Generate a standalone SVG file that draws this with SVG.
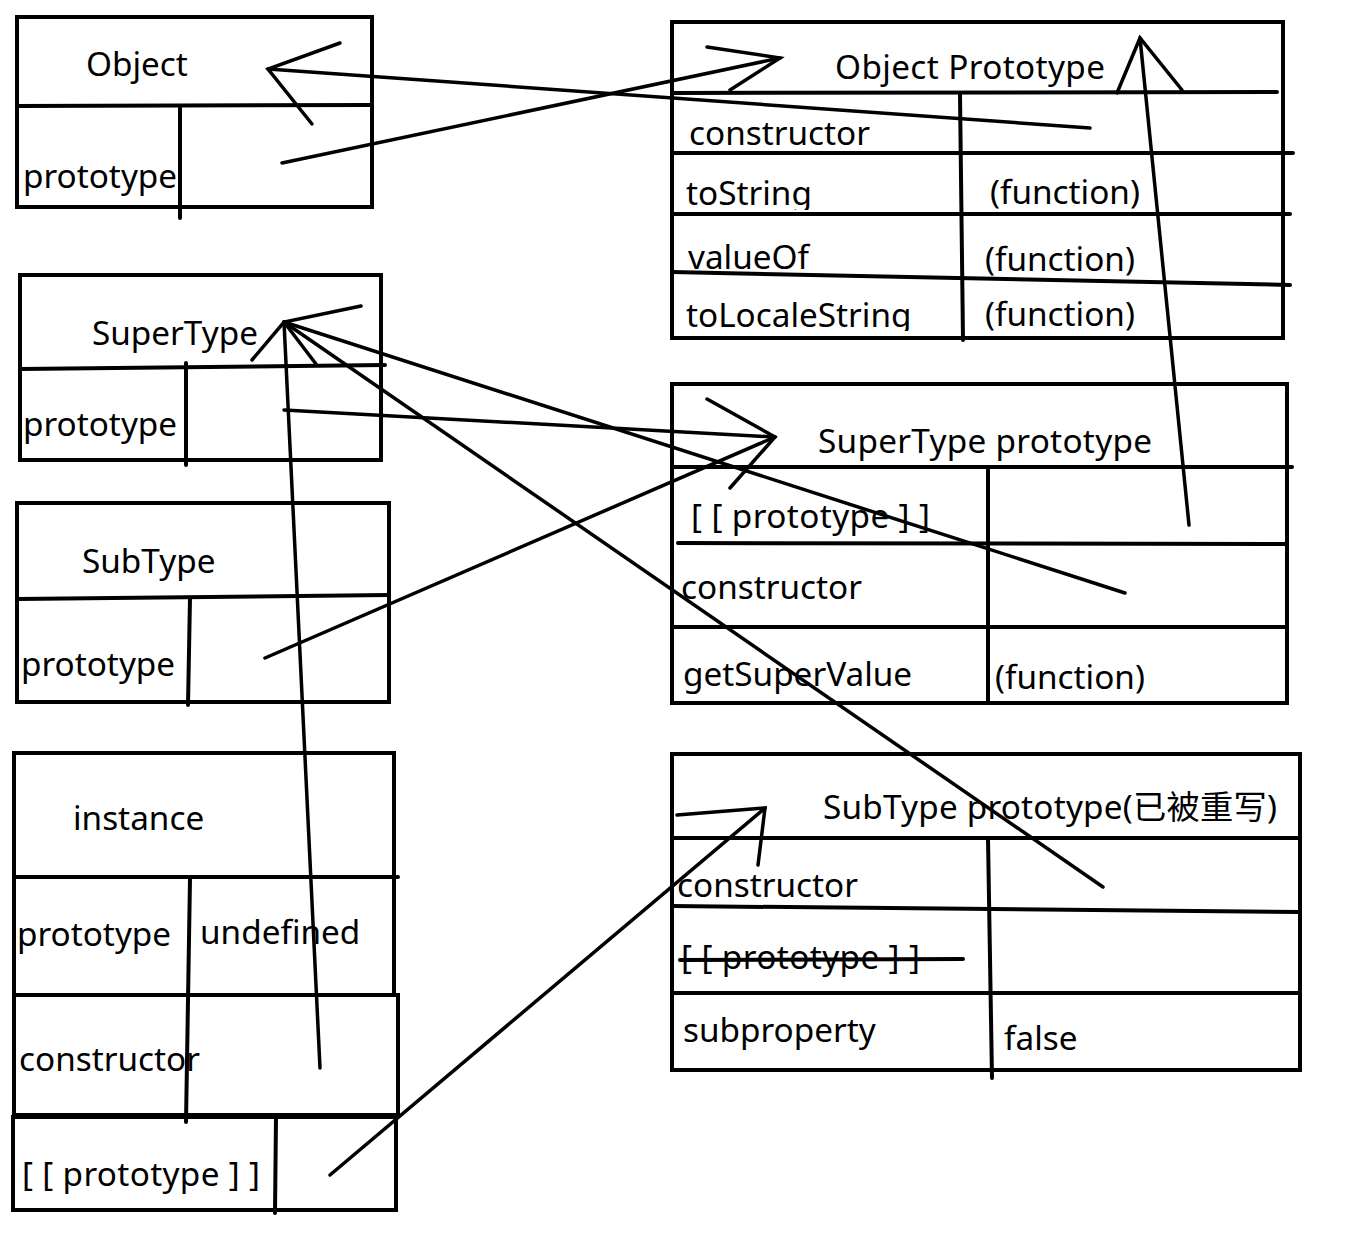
<svg xmlns="http://www.w3.org/2000/svg" width="1356" height="1249" viewBox="0 0 1356 1249">
<style>
.b{fill:none;stroke:#000;stroke-width:4;stroke-linecap:square}
.l{fill:none;stroke:#000;stroke-width:4;stroke-linecap:round}
.c{fill:none;stroke:#000;stroke-width:3.5;stroke-linecap:round}
text{font-family:"Noto Sans","Noto Sans CJK SC",sans-serif;font-size:33.3px;fill:#000}
</style>
<defs>
<clipPath id="clipTS"><rect x="672" y="150" width="290" height="60"/></clipPath>
<clipPath id="clipTLS"><rect x="672" y="280" width="290" height="51"/></clipPath>
</defs>
<rect width="1356" height="1249" fill="#fff"/>

<g id="object">
<rect class="b" x="17" y="17" width="355" height="190"/>
<line class="l" x1="17" y1="106" x2="372" y2="105"/>
<line class="l" x1="180" y1="108" x2="180" y2="218"/>
<text x="86" y="76">Object</text>
<text x="23" y="188">prototype</text>
</g>

<g id="object-prototype">
<rect class="b" x="672" y="22" width="611" height="316"/>
<line class="l" x1="672" y1="93" x2="1277" y2="92"/>
<line class="l" x1="672" y1="153" x2="1293" y2="153"/>
<line class="l" x1="672" y1="214" x2="1290" y2="214"/>
<line class="l" x1="672" y1="272" x2="1290" y2="285"/>
<line class="l" x1="960" y1="94" x2="963" y2="340"/>
<text x="835" y="79" textLength="270" lengthAdjust="spacing">Object Prototype</text>
<text x="689" y="145">constructor</text>
<text x="686" y="205" clip-path="url(#clipTS)">toString</text>
<text x="990" y="204">(function)</text>
<text x="688" y="269">valueOf</text>
<text x="985" y="271">(function)</text>
<text x="686" y="327" clip-path="url(#clipTLS)">toLocaleString</text>
<text x="985" y="326">(function)</text>
</g>

<g id="supertype">
<rect class="b" x="20" y="275" width="361" height="185"/>
<line class="l" x1="20" y1="369" x2="385" y2="365"/>
<line class="l" x1="186" y1="363" x2="186" y2="465"/>
<text x="92" y="345">SuperType</text>
<text x="23" y="436">prototype</text>
</g>

<g id="supertype-prototype">
<rect class="b" x="672" y="384" width="615" height="319"/>
<line class="l" x1="672" y1="467" x2="1292" y2="467"/>
<line class="l" x1="678" y1="543" x2="1285" y2="544"/>
<line class="l" x1="672" y1="627" x2="1285" y2="627"/>
<line class="l" x1="988" y1="470" x2="988" y2="703"/>
<text x="818" y="453" textLength="334" lengthAdjust="spacing">SuperType prototype</text>
<text x="691" y="528" textLength="239" lengthAdjust="spacing">[ [ prototype ] ]</text>
<text x="681" y="599">constructor</text>
<text x="683" y="686">getSuperValue</text>
<text x="995" y="689">(function)</text>
</g>

<g id="subtype">
<rect class="b" x="17" y="503" width="372" height="199"/>
<line class="l" x1="17" y1="599" x2="389" y2="595"/>
<line class="l" x1="190" y1="598" x2="188" y2="705"/>
<text x="82" y="573">SubType</text>
<text x="21" y="676">prototype</text>
</g>

<g id="instance">
<rect class="b" x="14" y="753" width="380" height="242"/>
<line class="l" x1="14" y1="877" x2="398" y2="877"/>
<rect class="b" x="14" y="995" width="384" height="120"/>
<rect class="b" x="13" y="1117" width="383" height="93"/>
<line class="l" x1="190" y1="879" x2="186" y2="1122"/>
<line class="l" x1="276" y1="1117" x2="275" y2="1213"/>
<text x="73" y="830">instance</text>
<text x="17" y="946">prototype</text>
<text x="200" y="944">undefined</text>
<text x="19" y="1071">constructor</text>
<text x="22" y="1186" textLength="238" lengthAdjust="spacing">[ [ prototype ] ]</text>
</g>

<g id="subtype-prototype">
<rect class="b" x="672" y="754" width="628" height="316"/>
<line class="l" x1="672" y1="838" x2="1300" y2="838"/>
<line class="l" x1="672" y1="906" x2="1300" y2="912"/>
<line class="l" x1="672" y1="993" x2="1300" y2="993"/>
<line class="l" x1="988" y1="838" x2="992" y2="1078"/>
<text x="823" y="819" textLength="454" lengthAdjust="spacing">SubType prototype(已被重写)</text>
<text x="677" y="897">constructor</text>
<text x="681" y="969" textLength="239" lengthAdjust="spacing">[ [ prototype ] ]</text>
<line class="l" x1="680" y1="960" x2="963" y2="959"/>
<text x="683" y="1042">subproperty</text>
<text x="1004" y="1050">false</text>
</g>

<g id="connectors">
<line class="c" x1="1090" y1="128" x2="268" y2="69"/>
<polyline class="c" points="340,43 268,69 312,124"/>
<line class="c" x1="282" y1="163" x2="780" y2="58"/>
<polyline class="c" points="707,47 780,58 730,90"/>
<line class="c" x1="1189" y1="525" x2="1140" y2="38"/>
<polyline class="c" points="1117,93 1140,38 1182,90"/>
<polyline class="c" points="361,306 284,322 252,360"/>
<line class="c" x1="284" y1="322" x2="316" y2="364"/>
<line class="c" x1="1125" y1="593" x2="284" y2="322"/>
<line class="c" x1="1103" y1="887" x2="284" y2="322"/>
<line class="c" x1="320" y1="1068" x2="284" y2="322"/>
<line class="c" x1="284" y1="410" x2="775" y2="437"/>
<polyline class="c" points="707,399 775,437 730,488"/>
<line class="c" x1="265" y1="658" x2="775" y2="437"/>
<line class="c" x1="330" y1="1175" x2="765" y2="808"/>
<polyline class="c" points="677,815 765,808 758,865"/>
</g>
</svg>
